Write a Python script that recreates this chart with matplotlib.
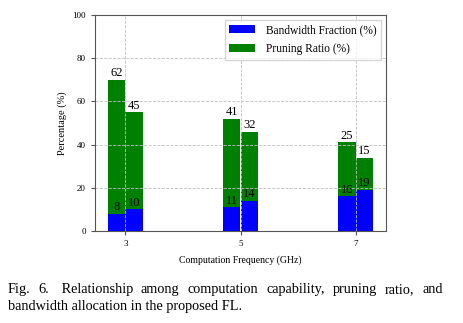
import matplotlib.pyplot as plt
import numpy as np

plt.rcParams['font.family'] = ['Liberation Serif', 'DejaVu Serif']

# dane
freq = [3, 5, 7]
bw_a = [8, 11, 16]
bw_b = [10, 14, 19]
pr_a = [62, 41, 25]
pr_b = [45, 32, 15]

x = np.array(freq, dtype=float)
w = 0.3

fig = plt.figure(figsize=(4.64, 3.23), dpi=100)
ax = fig.add_axes([95/464, 1 - 231/323, 291/464, 216/323])

ax.bar(x - w/2, bw_a, w, color='blue', label='Bandwidth Fraction (%)')
ax.bar(x + w/2, bw_b, w, color='blue')
ax.bar(x - w/2, pr_a, w, bottom=bw_a, color='green', label='Pruning Ratio (%)')
ax.bar(x + w/2, pr_b, w, bottom=bw_b, color='green')

# podpisy wartości
fs = 9
for i in range(3):
    ax.text(x[i] - w/2, bw_a[i] + 0.3, str(bw_a[i]), ha='center', va='bottom', fontsize=fs)
    ax.text(x[i] + w/2, bw_b[i] + 0.3, str(bw_b[i]), ha='center', va='bottom', fontsize=fs)
    ax.text(x[i] - w/2, bw_a[i] + pr_a[i] + 0.3, str(pr_a[i]), ha='center', va='bottom', fontsize=fs)
    ax.text(x[i] + w/2, bw_b[i] + pr_b[i] + 0.3, str(pr_b[i]), ha='center', va='bottom', fontsize=fs)

ax.set_ylim(0, 100)
ax.set_xticks(freq)
ax.tick_params(labelsize=6.5, length=3, color='#555555')
ax.grid(True, linestyle='--', color='#c0c0c0', linewidth=0.6)
for s in ax.spines.values():
    s.set_color('#555555')
ax.set_ylabel('Percentage (%)', fontsize=7.5)
ax.set_xlabel('Computation Frequency (GHz)', fontsize=7, labelpad=5)
ax.legend(loc='upper right', fontsize=8.3, fancybox=False, edgecolor='#cccccc',
          handlelength=2.2, handletextpad=1.0, labelspacing=0.6, borderaxespad=0.4)

# podpis rysunku, wyjustowany
line1 = ['Fig.', '6.', ' Relationship', 'among', 'computation', 'capability,', 'pruning', 'ratio,', 'and']
x0, x1 = 8, 443
fig.canvas.draw()
r = fig.canvas.get_renderer()
txts = [fig.text(0, 0, wd, fontsize=10.3) for wd in line1]
ws = [t.get_window_extent(r).width for t in txts]
gap = (x1 - x0 - sum(ws)) / (len(ws) - 1)
pos = x0
for t, wd in zip(txts, ws):
    t.set_position((pos / 464, 1 - 293/323))
    pos += wd + gap
fig.text(8/464, 1 - 310/323, 'bandwidth allocation in the proposed FL.', fontsize=10.3)

plt.savefig('out.png', dpi=100)
